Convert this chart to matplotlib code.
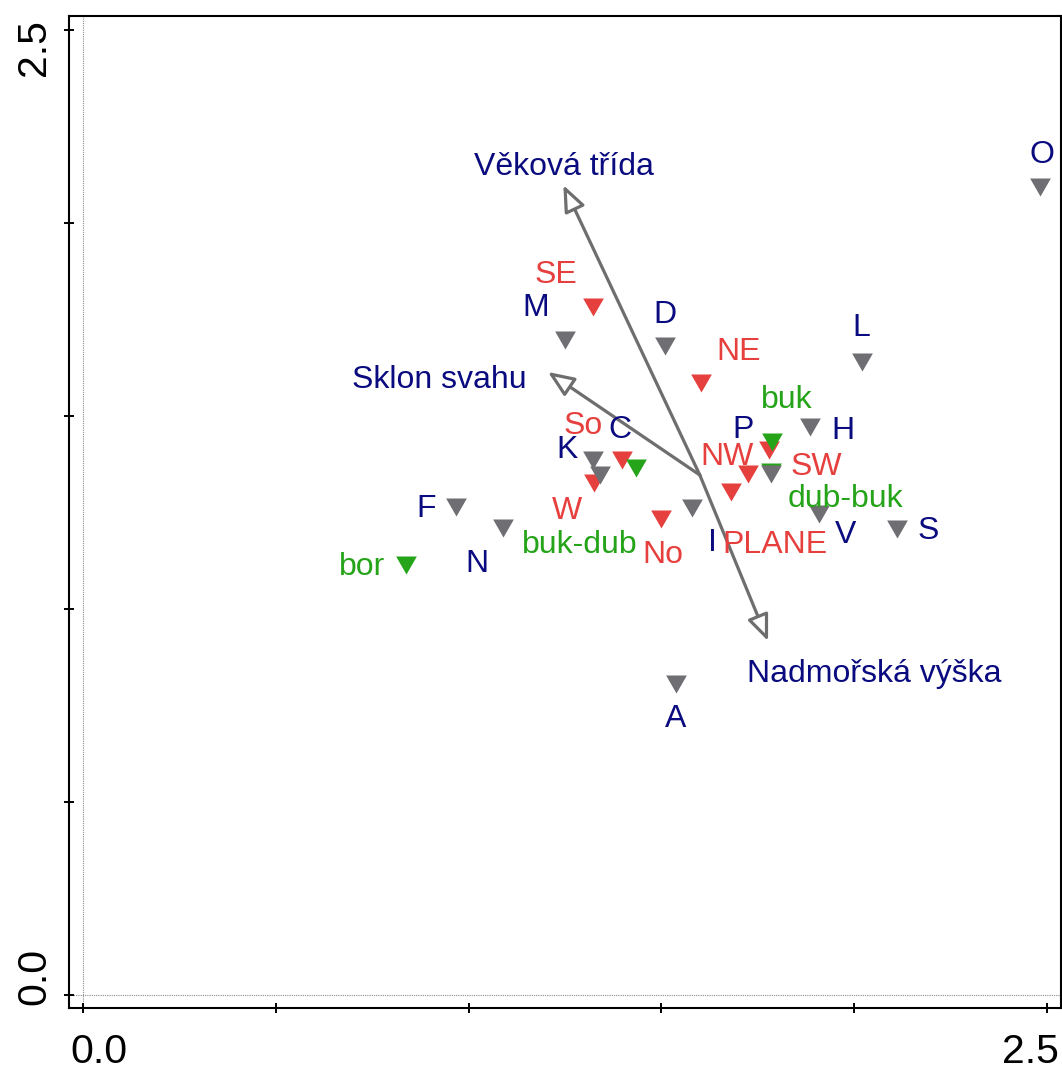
import numpy as np
import matplotlib
matplotlib.use("Agg")
import matplotlib.pyplot as plt

plt.rcParams['font.family'] = ['Liberation Sans', 'DejaVu Sans']

# sites (gray)
site_names = ['O', 'L', 'D', 'M', 'H', 'K', 'C', 'P', 'F', 'N', 'I', 'V', 'S', 'A']
site_x = [2.483, 2.020, 1.510, 1.250, 1.886, 1.322, 1.341, 1.785, 0.968, 1.090, 1.580, 1.910, 2.111, 1.538]
site_y = [2.094, 1.640, 1.680, 1.697, 1.472, 1.386, 1.347, 1.350, 1.265, 1.210, 1.262, 1.246, 1.207, 0.806]
site_lab_x = [2.487, 2.020, 1.510, 1.173, 1.971, 1.255, 1.393, 1.712, 0.890, 1.021, 1.633, 1.977, 2.192, 1.538]
site_lab_y = [2.185, 1.736, 1.770, 1.788, 1.469, 1.420, 1.472, 1.472, 1.269, 1.125, 1.179, 1.200, 1.210, 0.723]

# slope aspect (red)
aspect_names = ['SE', 'NE', 'So', 'W', 'No', 'SW', 'NW', 'PLANE']
aspect_x = [1.324, 1.602, 1.397, 1.326, 1.499, 1.780, 1.725, 1.680]
aspect_y = [1.783, 1.585, 1.386, 1.327, 1.233, 1.412, 1.350, 1.304]
aspect_lab_x = [1.227, 1.700, 1.297, 1.255, 1.505, 1.903, 1.670, 1.795]
aspect_lab_y = [1.874, 1.675, 1.482, 1.262, 1.148, 1.378, 1.402, 1.174]

# forest type (green)
forest_names = ['bor', 'buk', 'buk-dub', 'dub-buk']
forest_x = [0.838, 1.787, 1.434, 1.785]
forest_y = [1.114, 1.433, 1.365, 1.354]
forest_lab_x = [0.723, 1.826, 1.289, 1.977]
forest_lab_y = [1.119, 1.550, 1.174, 1.295]

# environmental variables (arrows)
env_names = ['Věková třída', 'Sklon svahu', 'Nadmořská výška']
env_origin = (1.600, 1.347)
env_tip_x = [1.246, 1.206, 1.777]
env_tip_y = [2.098, 1.614, 0.917]
env_lab_x = [1.248, 0.924, 2.053]
env_lab_y = [2.155, 1.602, 0.842]

NAVY = '#0B0B80'
RED = '#E6403E'
GREEN = '#25A41A'
GRAY = '#6E6E73'

tri = [(-1, 0.87), (1, 0.87), (0, -0.87)]

fig = plt.figure(figsize=(10.62, 10.66), dpi=100)
ax = fig.add_axes([0.065, 0.0544, 0.9341, 0.9309])

ax.axhline(0, color='#8a8a8a', lw=0.8, ls=(0, (1, 1)), zorder=1)
ax.axvline(0, color='#8a8a8a', lw=0.8, ls=(0, (1, 1)), zorder=1)

# arrows
for tx, ty in zip(env_tip_x, env_tip_y):
    ax.annotate('', xy=(tx, ty), xytext=env_origin,
                arrowprops=dict(arrowstyle='-|>,head_length=0.8,head_width=0.33',
                                mutation_scale=20, facecolor='white', edgecolor='#6E6E6E',
                                lw=2.3, shrinkA=0, shrinkB=0), zorder=2)

ax.plot(aspect_x, aspect_y, ls='none', marker=tri, ms=14.9, mew=0, color=RED, zorder=3)
ax.plot(forest_x, forest_y, ls='none', marker=tri, ms=14.9, mew=0, color=GREEN, zorder=4)
ax.plot(site_x, site_y, ls='none', marker=tri, ms=14.9, mew=0, color=GRAY, zorder=5)

def put_labels(names, xs, ys, color):
    for name, lx, ly in zip(names, xs, ys):
        ax.annotate(name, (lx, ly), xytext=(0, -8.3), textcoords='offset points',
                    ha='center', va='baseline', fontsize=23, color=color, zorder=6)

put_labels(site_names, site_lab_x, site_lab_y, NAVY)
put_labels(aspect_names, aspect_lab_x, aspect_lab_y, RED)
put_labels(forest_names, forest_lab_x, forest_lab_y, GREEN)
put_labels(env_names, env_lab_x, env_lab_y, NAVY)

ax.set_xlim(-0.0363, 2.537)
ax.set_ylim(-0.0337, 2.537)
ticks = np.arange(0, 2.51, 0.5)
ax.set_xticks(ticks, [''] * len(ticks))
ax.set_yticks(ticks, [''] * len(ticks))
ax.tick_params(direction='inout', length=7, width=1.4, top=False, right=False)
for sp in ax.spines.values():
    sp.set_linewidth(1.5)

# axis end labels, pulled inward from their ticks
ax.annotate('0.0', (0, 0), xycoords=('data', 'axes fraction'), xytext=(11.5, -18),
            textcoords='offset points', ha='center', va='top', fontsize=29.5, annotation_clip=False)
ax.annotate('2.5', (2.5, 0), xycoords=('data', 'axes fraction'), xytext=(-11.5, -18),
            textcoords='offset points', ha='center', va='top', fontsize=29.5, annotation_clip=False)
ax.annotate('0.0', (0, 0), xycoords=('axes fraction', 'data'), xytext=(-17.3, 13.7),
            textcoords='offset points', ha='center', va='baseline', rotation=90,
            rotation_mode='anchor', fontsize=29.5, annotation_clip=False)
ax.annotate('2.5', (0, 2.5), xycoords=('axes fraction', 'data'), xytext=(-17.3, -12.6),
            textcoords='offset points', ha='center', va='baseline', rotation=90,
            rotation_mode='anchor', fontsize=29.5, annotation_clip=False)

fig.savefig('out.png', dpi=100)
